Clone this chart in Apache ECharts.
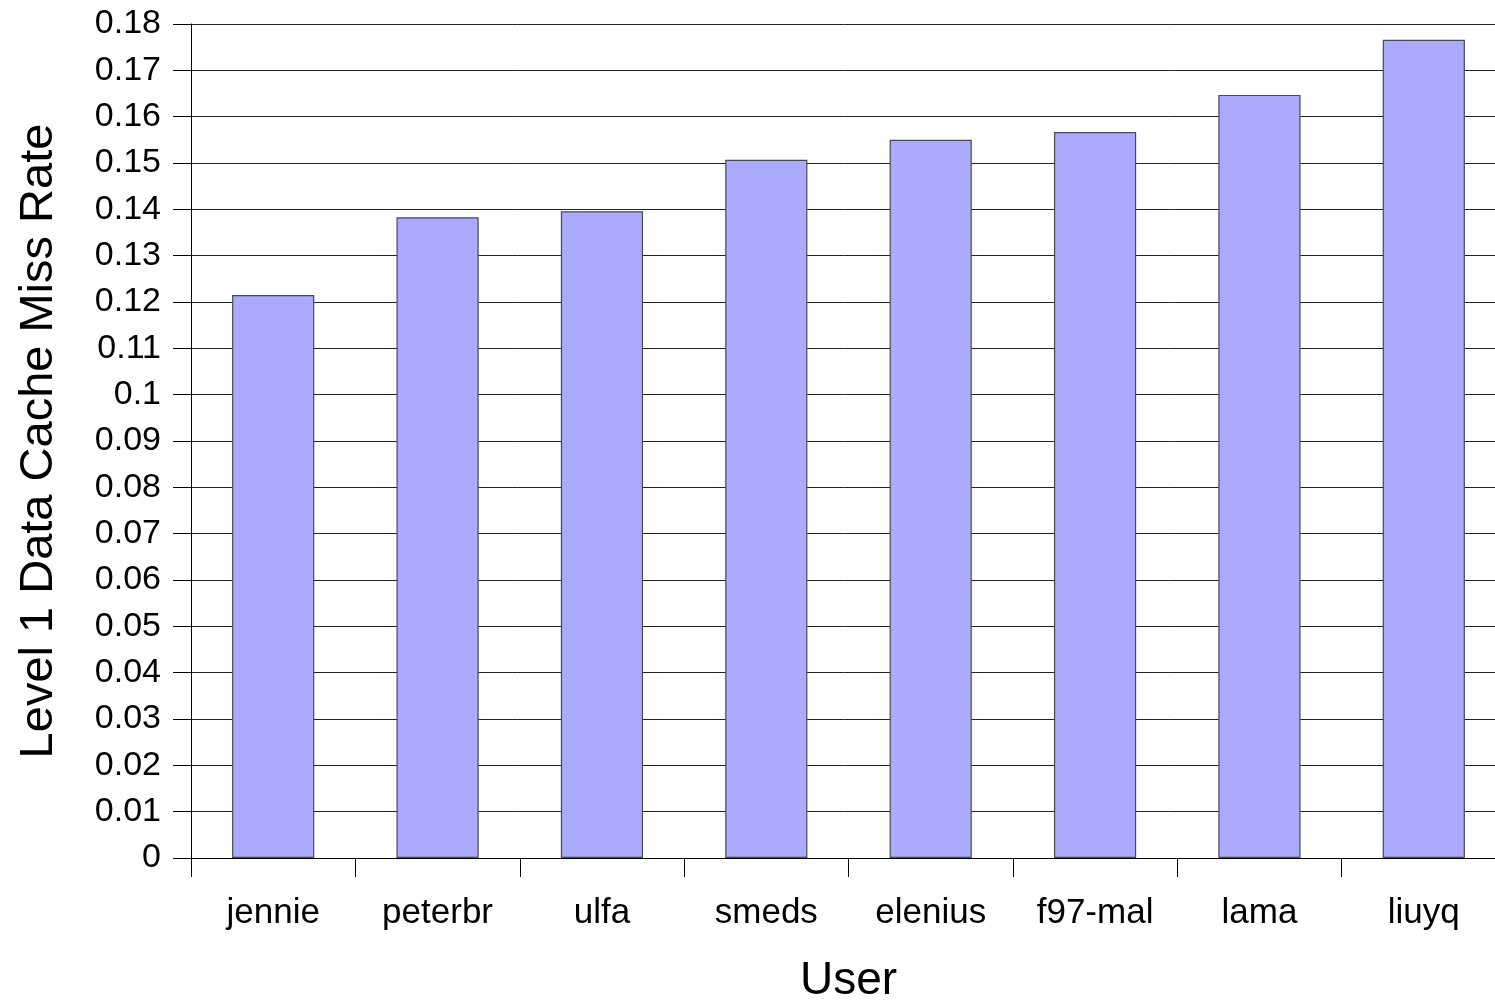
<!DOCTYPE html>
<html>
<head>
<meta charset="utf-8">
<script src="https://cdn.jsdelivr.net/npm/echarts@6/dist/echarts.min.js"></script>
<style>
html,body{margin:0;padding:0;background:#fff;overflow:hidden;}
#chart{width:1495px;height:1001px;}
</style>
</head>
<body>
<div id="chart"></div>
<script>
var users = ["jennie", "peterbr", "ulfa", "smeds", "elenius", "f97-mal", "lama", "liuyq"];
var missRate = [0.1215, 0.1383, 0.1396, 0.1507, 0.1550, 0.1567, 0.1647, 0.1766];
var yMin = 0, yMax = 0.18, yStep = 0.01;
var xTitle = "User";
var yTitle = "Level 1 Data Cache Miss Rate";

var chart = echarts.init(document.getElementById('chart'), null, {width: 1495, height: 1001});
var font = '"Liberation Sans", Arial, sans-serif';
chart.setOption({
  animation: false,
  backgroundColor: '#ffffff',
  grid: {left: 191, top: 24, width: 1315, height: 834, containLabel: false, outerBoundsMode: 'none'},
  xAxis: {
    type: 'category',
    data: users,
    name: xTitle,
    nameLocation: 'middle',
    nameGap: 100,
    nameTextStyle: {fontFamily: font, fontSize: 46, color: '#000'},
    axisLine: {lineStyle: {color: '#000', width: 1}},
    axisTick: {show: true, length: 19, interval: 0, lineStyle: {color: '#000'}},
    axisLabel: {fontFamily: font, fontSize: 35, color: '#000', margin: 38, interval: 0},
    splitLine: {show: false}
  },
  yAxis: {
    type: 'value',
    min: yMin, max: yMax, interval: yStep,
    name: yTitle,
    nameLocation: 'middle',
    nameRotate: 90,
    nameGap: 128,
    nameTextStyle: {fontFamily: font, fontSize: 47, color: '#000'},
    axisLine: {show: true, lineStyle: {color: '#000', width: 1}},
    axisTick: {show: true, length: 18, lineStyle: {color: '#000'}},
    axisLabel: {fontFamily: font, fontSize: 34, color: '#000', margin: 30,
      formatter: function (v) { return String(+v.toFixed(2)); }},
    splitLine: {show: true, lineStyle: {color: '#222', width: 1}}
  },
  series: [{
    type: 'bar',
    data: missRate,
    barWidth: '50%',
    itemStyle: {color: '#AAAAFF', borderColor: '#4a4a4a', borderWidth: 1.2}
  }]
});
</script>
</body>
</html>
